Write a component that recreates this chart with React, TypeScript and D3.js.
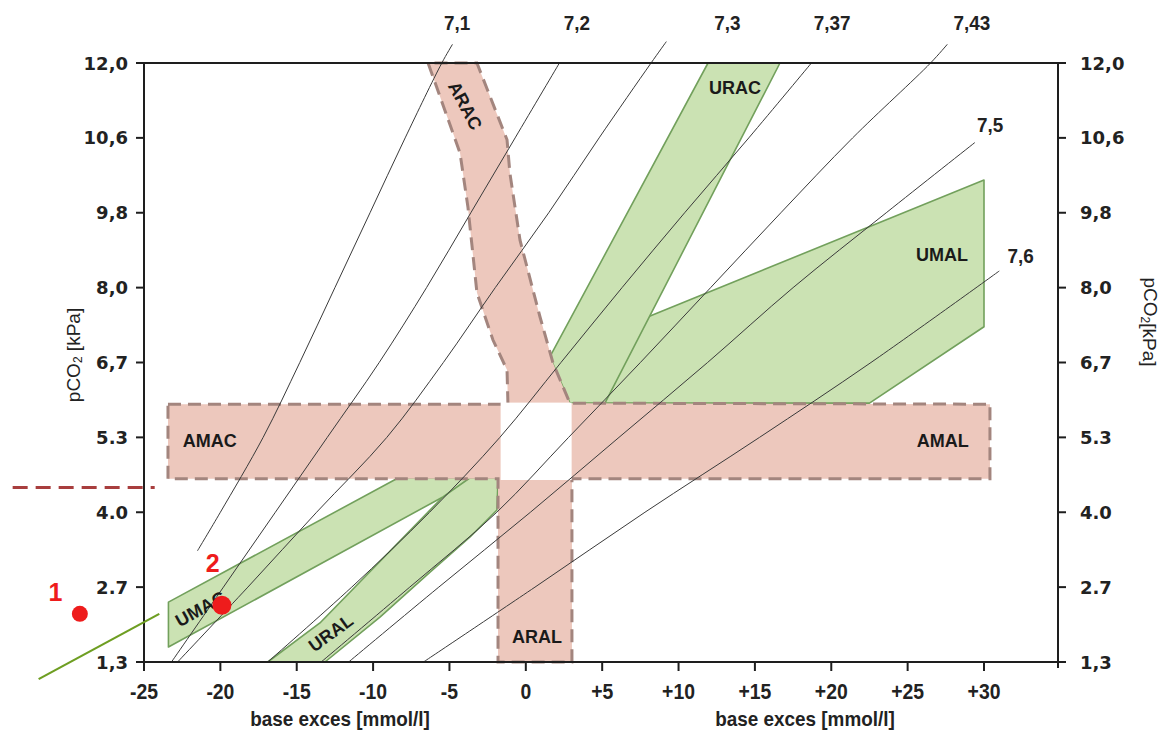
import React from "react";
import * as d3 from "d3";

const W = 1168, H = 740;
const LEFT = 144, RIGHT = 1058, TOP = 63, BOTTOM = 662;
const X_END = 984; // position of +30

// axis ticks
const BE_TICKS = [-25, -20, -15, -10, -5, 0, 5, 10, 15, 20, 25, 30];
const BE_LABELS = ["-25", "-20", "-15", "-10", "-5", "0", "+5", "+10", "+15", "+20", "+25", "+30"];
const PCO2_TICKS = [1.3, 2.7, 4.0, 5.3, 6.7, 8.0, 9.8, 10.6, 12.0];
const PCO2_LABELS = ["1,3", "2.7", "4.0", "5.3", "6,7", "8,0", "9,8", "10,6", "12,0"];

// iso-pH lines, [base excess, pCO2 kPa]
const PH_7_1 = [[-21.5, 3.33], [-20.0, 4.0], [-17.2, 5.3], [-14.8, 6.7], [-12.5, 8.0], [-10.2, 9.8], [-7.9, 10.6], [-5.5, 12.0], [-4.8, 12.35]];
const PH_7_2 = [[-23.2, 1.3], [-19.8, 2.7], [-16.4, 4.0], [-13.0, 5.3], [-9.6, 6.7], [-6.5, 8.0], [-3.6, 9.8], [-0.7, 10.6], [2.2, 12.0]];
const PH_7_3 = [[-22.8, 1.3], [-18.2, 2.7], [-13.7, 4.0], [-9.1, 5.3], [-5.4, 6.7], [-2.0, 8.0], [1.5, 9.8], [4.8, 10.6], [8.2, 12.0], [9.2, 12.4]];
const PH_7_37 = [[-16.9, 1.3], [-11.4, 2.7], [-6.3, 4.0], [-1.7, 5.3], [2.3, 6.7], [6.3, 8.0], [10.4, 9.8], [14.6, 10.6], [18.7, 12.0]];
const PH_7_43 = [[-13.4, 1.3], [-7.6, 2.7], [-1.9, 4.0], [2.8, 5.3], [7.5, 6.7], [12.1, 8.0], [16.7, 9.8], [21.4, 10.6], [26.5, 12.0], [27.6, 12.35]];
const PH_7_5 = [[-11.6, 1.3], [-5.7, 2.7], [0.3, 4.0], [6.1, 5.3], [11.9, 6.7], [17.5, 8.0], [23.6, 9.8], [29.4, 10.55]];
const PH_7_6 = [[-6.7, 1.3], [0.6, 2.7], [7.8, 4.0], [15.3, 5.3], [22.6, 6.7], [31.0, 8.4]];
const PH_NAMES = ["7,1", "7,2", "7,3", "7,37", "7,43", "7,5", "7,6"];
const PH_LABEL_AT = [[-4.5, 12.75], [3.35, 12.75], [13.2, 12.75], [20.05, 12.75], [29.2, 12.75], [30.4, 10.84], [32.4, 8.76]];

// compensated disorders (green)
const UMAC = [[-23.4, 1.58], [-23.4, 2.42], [-8.4, 4.59], [-3.7, 4.59], [-5.4, 4.27]];
const URAL = [[-16.9, 1.3], [-13.15, 1.3], [-9.55, 2.14], [-6.27, 2.96], [-3.65, 3.57], [-1.89, 4.04], [-1.82, 4.59], [-4.18, 4.59], [-5.42, 4.27], [-13.48, 2.03]];
const URAC = [[11.93, 12.0], [16.64, 12.0], [5.18, 5.94], [2.89, 5.94], [1.58, 6.8]];
const UMAL = [[1.58, 6.8], [30.0, 10.15], [30.0, 7.32], [22.5, 5.94], [2.89, 5.94]];

// acute disorders (pink cross outline)
const ACUTE = [
  [-23.43, 5.92], [-1.17, 5.92], [-1.23, 6.56], [-2.15, 7.09], [-3.2, 7.91], [-3.79, 9.86], [-4.31, 10.44], [-6.4, 12.0],
  [-3.2, 12.0], [-1.23, 10.58], [-1.04, 10.22], [-0.38, 9.14], [0.93, 7.49], [1.78, 6.69], [2.89, 5.94],
  [30.39, 5.92], [30.39, 4.58], [3.02, 4.58], [3.02, 1.3], [-1.82, 1.3], [-1.82, 4.58], [-23.43, 4.58],
];
const NORMAL = [[-1.65, 4.56], [3.0, 5.95]];

const BAND_NAMES = ["AMAC", "AMAL", "ARAL", "URAC", "UMAL", "ARAC", "UMAC", "URAL"];
const BAND_LABEL_AT = [[-20.7, 5.24], [27.3, 5.24], [0.73, 1.77], [13.7, 11.53], [27.25, 8.78], [-3.98, 11.2], [-21.3, 2.29], [-12.76, 1.84]];
const BAND_ANGLE = [0, 0, 0, 0, 0, 62, -29, -36];

// patients and reference marks
const PATIENTS = [[-29.2, 2.2], [-19.9, 2.36]];
const PATIENT_NAMES = ["1", "2"];
const PATIENT_LABEL_AT = [[-30.8, 2.6], [-20.5, 3.12]];
const RED_LIMIT = [[-33.6, 4.43], [-24.3, 4.43]];
const GREEN_REF = [[-31.9, 0.98], [-24.0, 2.2]];

const C = {
  pink: "#edc8bd", pinkLine: "#a3857e",
  green: "#cbe2b3", greenLine: "#72a05c",
  line: "#3a3a3a", axis: "#1e1e1e", red: "#ee1c1c",
};

const x = d3.scaleLinear().domain([-25, 30]).range([LEFT, X_END]);
const y = d3.scaleLinear()
  .domain(PCO2_TICKS)
  .range(PCO2_TICKS.map((_, i) => BOTTOM - (i * (BOTTOM - TOP)) / (PCO2_TICKS.length - 1)));

const poly = d3.line<number[]>().x(d => x(d[0])).y(d => y(d[1]));
const curve = d3.line<number[]>().x(d => x(d[0])).y(d => y(d[1])).curve(d3.curveCatmullRom);

const WIDE = "'DejaVu Sans', 'Liberation Sans', Arial, sans-serif";
const SANS = "'Liberation Sans', Arial, sans-serif";

export default function App() {
  const phLines = [PH_7_1, PH_7_2, PH_7_3, PH_7_37, PH_7_43, PH_7_5, PH_7_6];
  return (
    <div style={{ position: "absolute", left: 0, top: 0, width: W, height: H, background: "#fff" }}>
      <svg width={W} height={H} style={{ display: "block" }}>
        {/* compensation bands */}
        {[URAL, UMAC, UMAL, URAC].map((p, i) => (
          <path key={i} d={poly(p) + "Z"} fill={C.green} stroke={C.greenLine} strokeWidth={1.6} strokeLinejoin="round" />
        ))}

        {/* acute bands */}
        <path d={poly(ACUTE) + "Z"} fill={C.pink} stroke={C.pinkLine} strokeWidth={3} strokeDasharray="13,7" />
        <rect x={x(NORMAL[0][0])} y={y(NORMAL[1][1])} width={x(NORMAL[1][0]) - x(NORMAL[0][0])}
          height={y(NORMAL[0][1]) - y(NORMAL[1][1])} fill="#fff" />

        {/* iso-pH lines */}
        {phLines.map((p, i) => (
          <path key={i} d={curve(p) ?? ""} fill="none" stroke={C.line} strokeWidth={1} />
        ))}

        {/* frame */}
        <g stroke={C.axis} strokeWidth={2} fill="none">
          <line x1={LEFT} y1={TOP} x2={RIGHT} y2={TOP} />
          <line x1={LEFT} y1={TOP} x2={LEFT} y2={BOTTOM + 6} />
          <line x1={RIGHT} y1={TOP} x2={RIGHT} y2={BOTTOM + 6} />
          <line x1={LEFT - 7} y1={BOTTOM} x2={RIGHT} y2={BOTTOM} />
          {PCO2_TICKS.map(t => (
            <g key={t}>
              <line x1={LEFT - 8} x2={LEFT} y1={y(t)} y2={y(t)} />
              <line x1={RIGHT} x2={RIGHT + 8} y1={y(t)} y2={y(t)} />
            </g>
          ))}
          {BE_TICKS.map(t => <line key={t} x1={x(t)} x2={x(t)} y1={BOTTOM} y2={BOTTOM + 9} />)}
        </g>

        {/* tick labels */}
        <g fontFamily={WIDE} fontWeight="bold" fontSize={18} fill="#222">
          {PCO2_TICKS.map((t, i) => (
            <g key={t}>
              <text x={LEFT - 16} y={y(t)} textAnchor="end" dominantBaseline="central">{PCO2_LABELS[i]}</text>
              <text x={RIGHT + 22} y={y(t)} dominantBaseline="central">{PCO2_LABELS[i]}</text>
            </g>
          ))}
        </g>
        <g fontFamily={SANS} fontWeight="bold" fill="#222" textAnchor="middle">
          {BE_TICKS.map((t, i) => (
            <text key={t} transform={`translate(${x(t)},${BOTTOM + 29}) scale(0.88,1)`} fontSize={22}
              dominantBaseline="central">{BE_LABELS[i]}</text>
          ))}
          <text transform="translate(340,719) scale(0.9,1)" dominantBaseline="central" fontSize={21}>base exces [mmol/l]</text>
          <text transform="translate(805,719) scale(0.9,1)" dominantBaseline="central" fontSize={21}>base exces [mmol/l]</text>
        </g>

        {/* axis titles */}
        <text transform="translate(73,355) rotate(-90)" textAnchor="middle" dominantBaseline="central"
          fontFamily={SANS} fontSize={19} fill="#222">
          pCO<tspan fontSize={12} dy={5}>2</tspan><tspan dy={-5}> [kPa]</tspan>
        </text>
        <text transform="translate(1150,322) rotate(90)" textAnchor="middle" dominantBaseline="central"
          fontFamily={SANS} fontSize={19} fill="#222">
          pCO<tspan fontSize={12} dy={5}>2</tspan><tspan dy={-5}>[kPa]</tspan>
        </text>

        {/* pH labels */}
        <g fontFamily={SANS} fontWeight="bold" fill="#222" textAnchor="middle">
          {PH_NAMES.map((n, i) => (
            <text key={n} transform={`translate(${x(PH_LABEL_AT[i][0])},${y(PH_LABEL_AT[i][1])}) scale(0.9,1)`}
              fontSize={21} dominantBaseline="central">{n}</text>
          ))}
        </g>

        {/* band labels */}
        <g fontFamily={SANS} fontWeight="bold" fontSize={18} fill="#1a1a1a" textAnchor="middle">
          {BAND_NAMES.map((n, i) => (
            <text key={n} dominantBaseline="central"
              transform={`translate(${x(BAND_LABEL_AT[i][0])},${y(BAND_LABEL_AT[i][1])}) rotate(${BAND_ANGLE[i]})`}>{n}</text>
          ))}
        </g>

        {/* reference marks */}
        <path d={poly(RED_LIMIT) ?? ""} stroke="#a83e3e" strokeWidth={3} strokeDasharray="15,8" fill="none" />
        <path d={poly(GREEN_REF) ?? ""} stroke="#6e9e22" strokeWidth={2.2} fill="none" />

        {/* patients */}
        {PATIENTS.map((p, i) => (
          <g key={i}>
            <circle cx={x(p[0])} cy={y(p[1])} r={i === 0 ? 8 : 9.5} fill={C.red} />
            <text x={x(PATIENT_LABEL_AT[i][0])} y={y(PATIENT_LABEL_AT[i][1])} textAnchor="middle" dominantBaseline="central"
              fontFamily={SANS} fontWeight="bold" fontSize={25} fill={C.red}>{PATIENT_NAMES[i]}</text>
          </g>
        ))}
      </svg>
    </div>
  );
}
